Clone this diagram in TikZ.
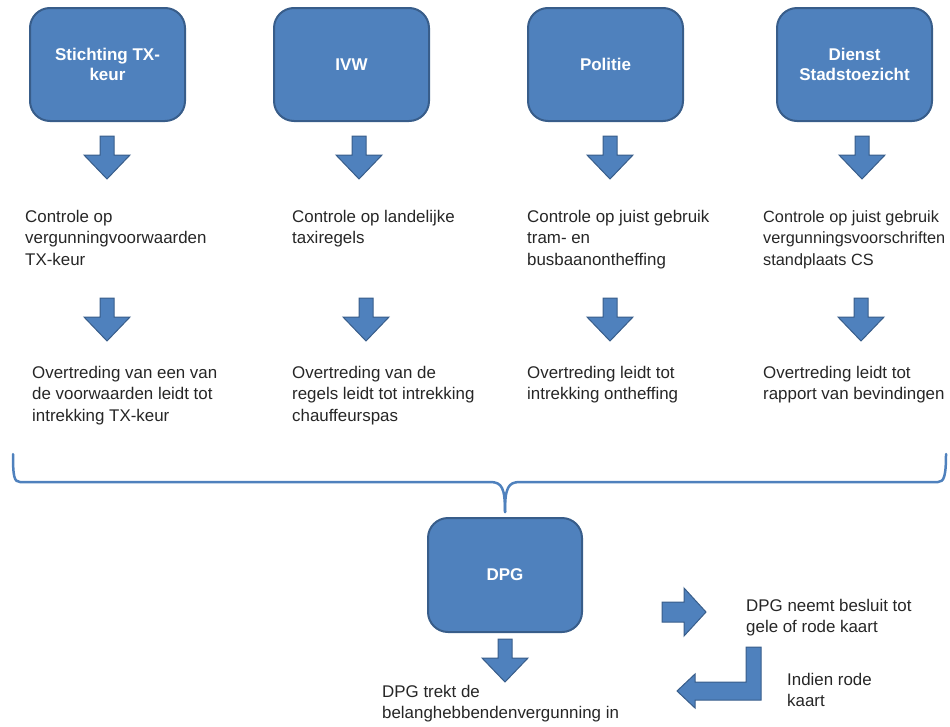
\documentclass[tikz,border=0pt]{standalone}
\usepackage{fontspec}
\setmainfont{Liberation Sans}
\definecolor{boxfill}{RGB}{79,129,189}
\definecolor{boxline}{RGB}{56,93,138}
\definecolor{bracecol}{RGB}{79,129,189}
\tikzset{
  orgbox/.style={draw=boxline, line width=2pt, fill=boxfill, rounded corners=20pt,
    minimum width=155pt, minimum height=113pt, text=white, align=center,
    font=\fontsize{17}{20.5}\selectfont\bfseries, inner sep=0pt},
  txt/.style={anchor=north west, align=left, inner sep=0pt, text=black!85,
    font=\fontsize{16.9}{21.5}\selectfont},
  blockarrow/.style={draw=boxline, line width=1pt, fill=boxfill, line join=miter},
  pics/downarrow/.style={code={
    \path[blockarrow] (-7,0) -- (7,0) -- (7,19) -- (23,19) -- (0,43) -- (-23,19) -- (-7,19) -- cycle;
  }},
}
\begin{document}
\begin{tikzpicture}[x=1pt,y=-1pt]
\useasboundingbox (0,0) rectangle (950,726);
% top boxes
\node[orgbox] (b1) at (107.5,64.5) {Stichting TX-\\keur};
\node[orgbox] (b2) at (351.5,64.5) {IVW};
\node[orgbox] (b3) at (605.5,64.5) {Politie};
\node[orgbox] (b4) at (854.5,64.5) {Dienst\\Stadstoezicht};
% first arrows
\pic at (107,136) {downarrow};
\pic at (359,136) {downarrow};
\pic at (610,136) {downarrow};
\pic at (862,136) {downarrow};
% controle texts
\node[txt] (c1) at (25,210) {Controle op\\vergunningvoorwaarden\\TX-keur};
\node[txt] (c2) at (292,210) {Controle op landelijke\\taxiregels};
\node[txt] (c3) at (527,210) {Controle op juist gebruik\\tram- en\\busbaanontheffing};
\node[txt, font=\fontsize{16.3}{21.5}\selectfont] (c4) at (763,210) {Controle op juist gebruik\\vergunningsvoorschriften\\standplaats CS};
% second arrows
\pic at (107,298) {downarrow};
\pic at (366,298) {downarrow};
\pic at (610,298) {downarrow};
\pic at (861,298) {downarrow};
% overtreding texts
\node[txt] (o1) at (32,366) {Overtreding van een van\\de voorwaarden leidt tot\\intrekking TX-keur};
\node[txt] (o2) at (292,366) {Overtreding van de\\regels leidt tot intrekking\\chauffeurspas};
\node[txt] (o3) at (527,366) {Overtreding leidt tot\\intrekking ontheffing};
\node[txt] (o4) at (763,366) {Overtreding leidt tot\\rapport van bevindingen};
% brace
\coordinate (bl) at (13,454);
\coordinate (br) at (946,454);
\coordinate (bt) at (505,512);
\draw[bracecol, line width=2.5pt, line cap=round, line join=round]
  (bl) .. controls (13,476) and (14,482) .. (20,482) -- (490,482)
  .. controls (502,482) and (505,488) .. (bt);
\draw[bracecol, line width=2.5pt, line cap=round, line join=round]
  (bt) .. controls (505,488) and (508,482) .. (520,482) -- (938,482)
  .. controls (944,482) and (946,476) .. (br);
% DPG
\node[orgbox, minimum width=154pt, minimum height=114pt] (dpg) at (505,575) {DPG};
\pic at (505,639) {downarrow};
\node[txt] (t1) at (382,685) {DPG trekt de\\belanghebbendenvergunning in};
% right arrow
\path[blockarrow] (662,602) -- (684,602) -- (684,588) -- (706,612) -- (684,636) -- (684,622) -- (662,622) -- cycle;
\node[txt] (t2) at (746,599) {DPG neemt besluit tot\\gele of rode kaart};
% bent arrow
\path[blockarrow] (746,647) -- (761,647) -- (761,700) -- (695,700) -- (695,708) -- (677,691) -- (695,674) -- (695,682) -- (746,682) -- cycle;
\node[txt] (t3) at (787,673) {Indien rode\\kaart};
\end{tikzpicture}
\end{document}
